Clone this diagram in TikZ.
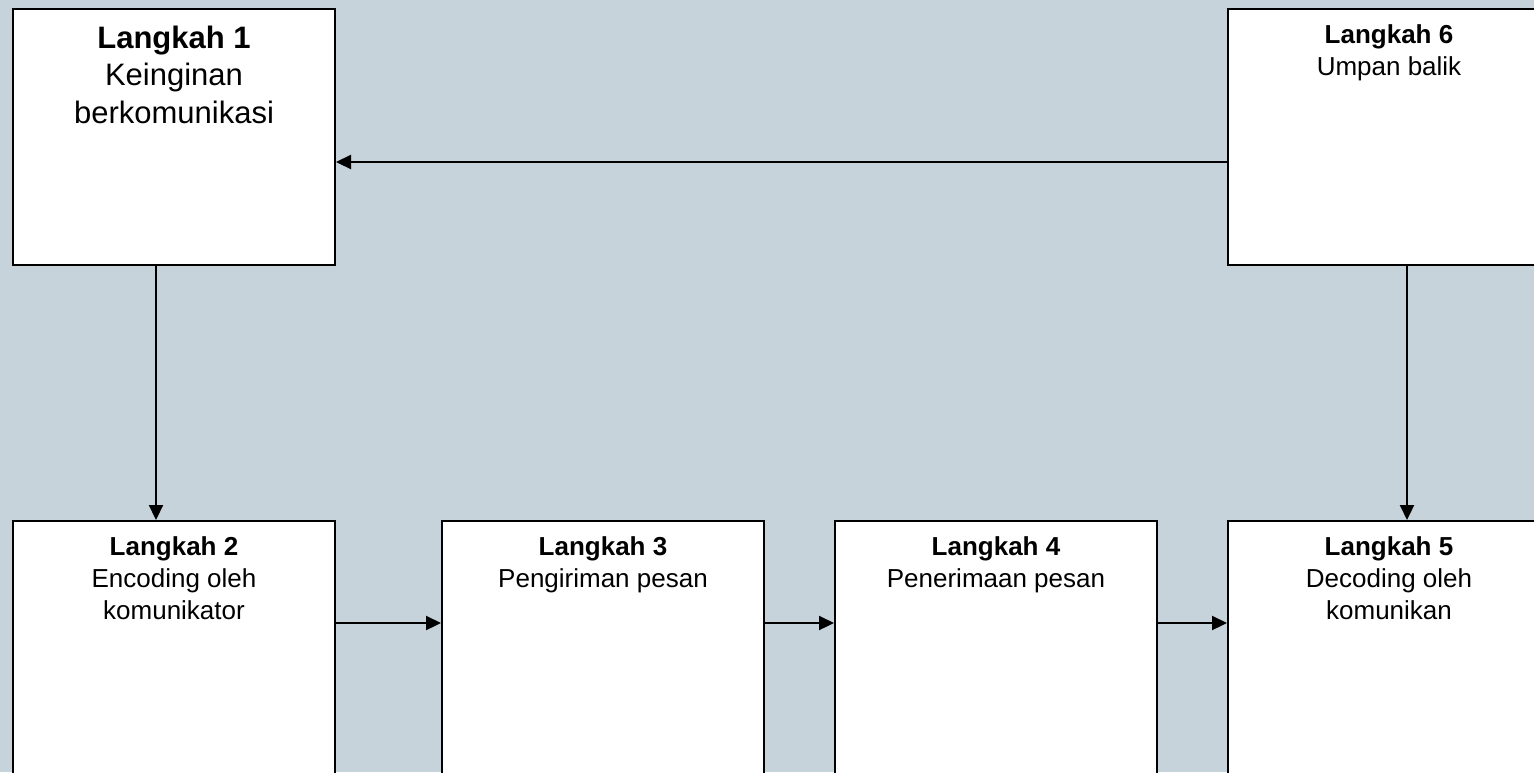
\documentclass[tikz,border=0pt]{standalone}
\usepackage{fontspec}
\setmainfont{Liberation Sans}
\usetikzlibrary{arrows.meta}
\definecolor{bgcol}{RGB}{198,211,218}
\begin{document}
\begin{tikzpicture}[x=1pt,y=-1pt,
  box/.style={draw=black, line width=2pt, fill=white, minimum width=322pt, minimum height=256pt, inner sep=0pt, anchor=north west},
  lbl/.style={anchor=north, align=center, inner sep=0pt, font=\fontsize{26}{32}\selectfont},
  biglbl/.style={anchor=north, align=center, inner sep=0pt, font=\fontsize{31}{37.5}\selectfont},
  conn/.style={line width=2.2pt, -{Triangle[length=15pt,width=14pt]}}]
\useasboundingbox (0,0) rectangle (1534,772);
\fill[bgcol] (0,0) rectangle (1534,772);
\clip (0,0) rectangle (1534,772);
\node[box] (b1) at (12,8) {};
\node[box] (b6) at (1227,8) {};
\node[box] (b2) at (12,520) {};
\node[box] (b3) at (441,520) {};
\node[box] (b4) at (834,520) {};
\node[box] (b5) at (1227,520) {};
\node[biglbl] (t1) at ([yshift=-17.8pt]b1.north) {\textbf{Langkah 1}\\Keinginan\\berkomunikasi};
\node[lbl] (t6) at ([yshift=-16.4pt]b6.north) {\textbf{Langkah 6}\\Umpan balik};
\node[lbl] (t2) at ([yshift=-16.4pt]b2.north) {\textbf{Langkah 2}\\Encoding oleh\\komunikator};
\node[lbl] (t3) at ([yshift=-16.4pt]b3.north) {\textbf{Langkah 3}\\Pengiriman pesan};
\node[lbl] (t4) at ([yshift=-16.4pt]b4.north) {\textbf{Langkah 4}\\Penerimaan pesan};
\node[lbl] (t5) at ([yshift=-16.4pt]b5.north) {\textbf{Langkah 5}\\Decoding oleh\\komunikan};
\draw[conn] ([yshift=-25pt]b6.west) -- ([yshift=-25pt]b1.east);
\draw[conn] ([xshift=-18pt]b1.south) -- ([xshift=-18pt]b2.north);
\draw[conn] ([xshift=18pt]b6.south) -- ([xshift=18pt]b5.north);
\draw[conn] ([yshift=26pt]b2.east) -- ([yshift=26pt]b3.west);
\draw[conn] ([yshift=26pt]b3.east) -- ([yshift=26pt]b4.west);
\draw[conn] ([yshift=26pt]b4.east) -- ([yshift=26pt]b5.west);
\end{tikzpicture}
\end{document}
